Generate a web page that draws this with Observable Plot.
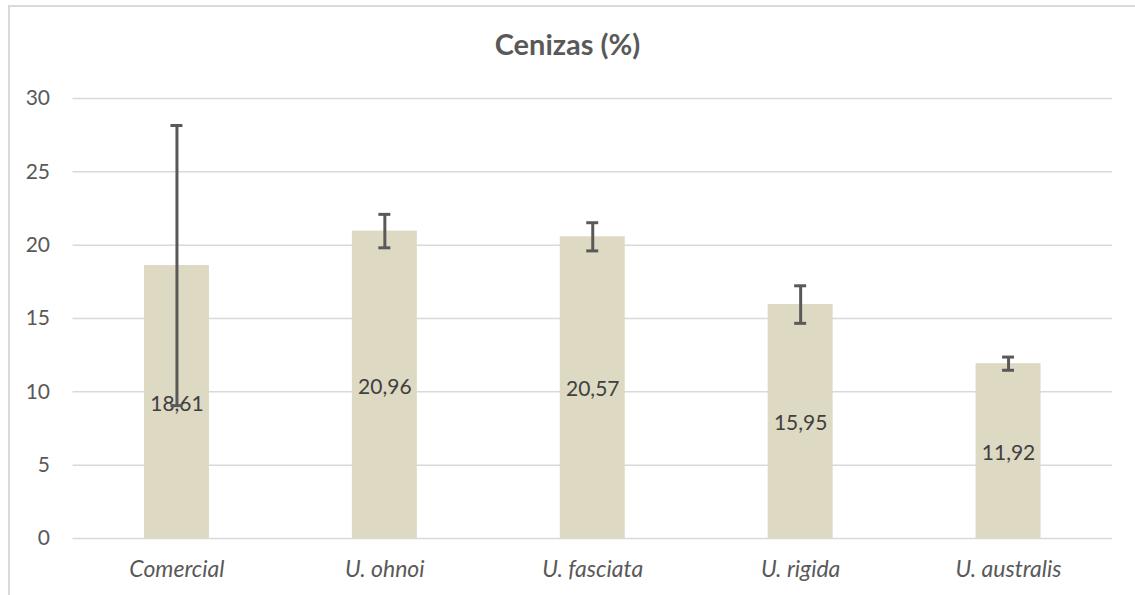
<!DOCTYPE html>
<html>
<head>
<meta charset="utf-8">
<script src="https://cdn.jsdelivr.net/npm/d3@7"></script>
<script src="https://cdn.jsdelivr.net/npm/@observablehq/plot@0.6"></script>
<style>
  html, body { margin: 0; padding: 0; background: #fff; }
  #wrap { position: relative; width: 1135px; height: 595px; overflow: hidden; font-family: Lato, "Open Sans", sans-serif; }
  #border { position: absolute; left: 8px; top: 5px; width: 1140px; height: 600px; border-left: 2px solid #d9d9d9; border-top: 2px solid #d9d9d9; box-sizing: border-box; }
  #title { position: absolute; left: 0; width: 1135px; top: 27px; text-align: center; font-size: 29px; font-weight: bold; color: #595959; line-height: 34px; }
  #chart { position: absolute; left: 0; top: 0; }
</style>
</head>
<body>
<div id="wrap">
  <div id="border"></div>
  <div id="chart"></div>
  <div id="title">Cenizas (%)</div>
</div>
<script>
const categories = ["Comercial", "U. ohnoi", "U. fasciata", "U. rigida", "U. australis"];
const values = [18.61, 20.96, 20.57, 15.95, 11.92];
const errors = [9.55, 1.14, 0.96, 1.28, 0.45];
const yTicks = [0, 5, 10, 15, 20, 25, 30];

const data = categories.map((c, i) => ({cat: c, v: values[i], e: errors[i]}));
const fmt = v => v.toFixed(2).replace(".", ",");

const plot = Plot.plot({
  width: 1135,
  height: 595,
  marginLeft: 72.5,
  marginRight: 23,
  marginTop: 98,
  marginBottom: 57,
  style: {fontFamily: "Lato, 'Open Sans', sans-serif", background: "transparent"},
  x: {domain: categories, paddingInner: 0.6875, paddingOuter: 0.34375, round: false, axis: null},
  y: {domain: [0, 30], axis: null},
  marks: [
    Plot.gridY(yTicks, {stroke: "#d9d9d9", strokeOpacity: 1, strokeWidth: 1.5}),
    Plot.axisY(yTicks, {tickSize: 0, tickPadding: 23, fontSize: 21, fill: "#595959", label: null}),
    Plot.barY(data, {x: "cat", y: "v", fill: "#ddd9c3"}),
    Plot.text(data, {x: "cat", y: d => d.v / 2, text: d => fmt(d.v), fontSize: 21, fill: "#404040", dy: 2}),
    Plot.ruleX(data, {x: "cat", y1: d => d.v - d.e, y2: d => d.v + d.e, stroke: "#595959", strokeWidth: 3}),
    Plot.tickY(data, {x: "cat", y: d => d.v + d.e, stroke: "#595959", strokeWidth: 3, insetLeft: 26.5, insetRight: 26.5}),
    Plot.tickY(data, {x: "cat", y: d => d.v - d.e, stroke: "#595959", strokeWidth: 3, insetLeft: 26.5, insetRight: 26.5}),
    Plot.text(data, {x: "cat", y: 0, text: "cat", dy: 31, fontSize: 23, fontStyle: "italic", fill: "#595959"})
  ]
});
document.getElementById("chart").appendChild(plot);
</script>
</body>
</html>
